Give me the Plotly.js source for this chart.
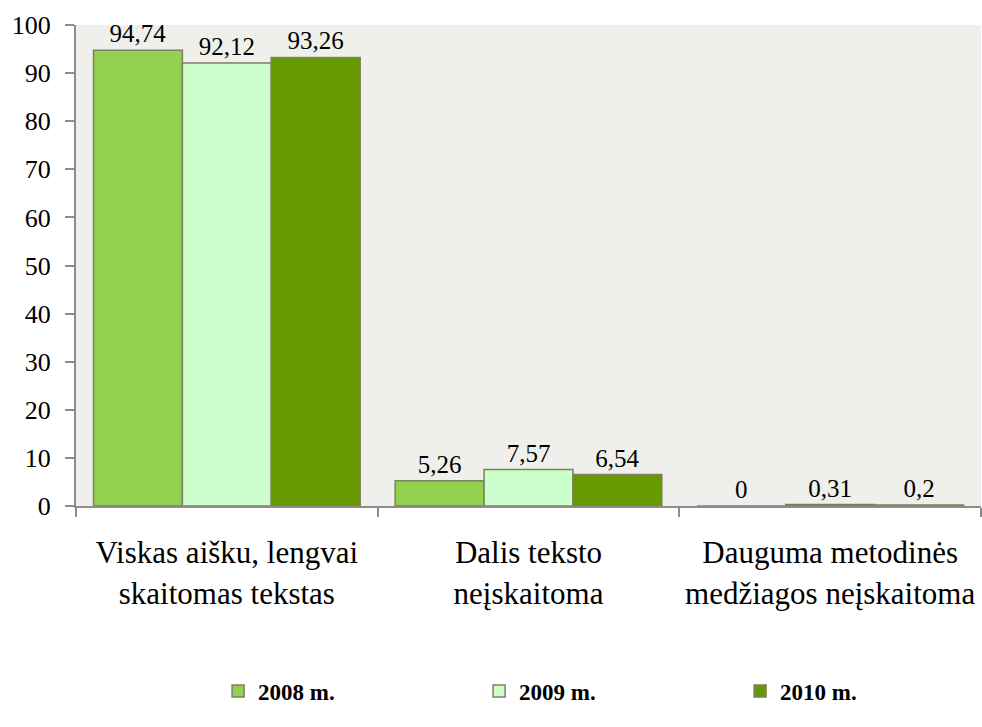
<!DOCTYPE html>
<html>
<head>
<meta charset="utf-8">
<script src="https://cdn.plot.ly/plotly-3.0.1.min.js"></script>
<style>
  html, body { margin: 0; padding: 0; background: #fff; }
  #plot { width: 982px; height: 727px; }
</style>
</head>
<body>
<div id="plot"></div>
<script>
(function (document) {

    var categories = [
        'Viskas aišku, lengvai<br>skaitomas tekstas',
        'Dalis teksto<br>neįskaitoma',
        'Dauguma metodinės<br>medžiagos neįskaitoma'
    ];
    var values2008 = [94.74, 5.26, 0];
    var values2009 = [92.12, 7.57, 0.31];
    var values2010 = [93.26, 6.54, 0.2];
    var seriesNames = ['2008 m.', '2009 m.', '2010 m.'];
    var seriesColors = ['#92D050', '#CCFFCC', '#669900'];

    var SERIF = 'Liberation Serif';

    // skaičiai su kableliu
    function kablelis(arr) {
        return arr.map(function (v) { return String(v).replace('.', ','); });
    }

    function serija(name, vals, color) {
        return {
            name: name,
            type: 'bar',
            x: categories,
            y: vals,
            text: kablelis(vals),
            textposition: 'outside',
            cliponaxis: false,
            textfont: { family: SERIF, size: 25, color: '#000' },
            marker: { color: color, line: { color: '#7F7F62', width: 1.5 } }
        };
    }

    var data = [
        serija(seriesNames[0], values2008, seriesColors[0]),
        serija(seriesNames[1], values2009, seriesColors[1]),
        serija(seriesNames[2], values2010, seriesColors[2])
    ];

    var layout = {
        width: 982,
        height: 727,
        margin: { l: 76, r: 1, t: 25, b: 221, autoexpand: false },
        paper_bgcolor: '#ffffff',
        plot_bgcolor: '#EFEFEB',
        font: { family: SERIF, size: 25, color: '#000' },
        barmode: 'group',
        bargap: 0.116,
        bargroupgap: 0,
        showlegend: true,
        xaxis: {
            type: 'category',
            showline: true,
            linecolor: '#8C8C8C',
            linewidth: 2,
            ticks: 'outside',
            tickson: 'boundaries',
            ticklen: 9,
            tickcolor: '#8C8C8C',
            tickwidth: 2,
            tickfont: { family: SERIF, size: 31, color: '#000' },
            ticklabelstandoff: 18,
            showgrid: false,
            zeroline: false,
            automargin: false
        },
        yaxis: {
            range: [0, 100],
            dtick: 10,
            showline: true,
            linecolor: '#8C8C8C',
            linewidth: 2,
            ticks: 'outside',
            ticklen: 9,
            tickcolor: '#8C8C8C',
            tickwidth: 2,
            tickfont: { family: SERIF, size: 26, color: '#000' },
            ticklabelstandoff: 9,
            showgrid: false,
            zeroline: false,
            automargin: false
        },
        legend: {
            orientation: 'h',
            x: 0.157,
            xanchor: 'left',
            y: -0.34,
            yanchor: 'top',
            entrywidth: 216,
            entrywidthmode: 'pixels',
            font: { family: SERIF, size: 23, color: '#000', weight: 'bold' },
            itemwidth: 30
        }
    };

    Plotly.newPlot('plot', data, layout, { displayModeBar: false });

})(document);
</script>
</body>
</html>
